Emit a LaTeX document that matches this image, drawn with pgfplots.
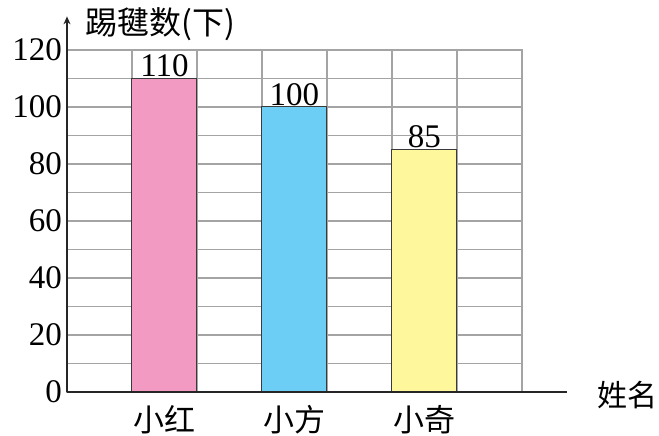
\documentclass[border=0pt]{standalone}
\usepackage{fontspec}
\setmainfont{Liberation Serif}
\newfontfamily\cjk{Noto Sans CJK SC}
\usepackage{pgfplots}
\pgfplotsset{compat=1.18}
\usetikzlibrary{arrows.meta}
\definecolor{gridgray}{HTML}{A4A4A4}
\definecolor{barpink}{HTML}{F39AC2}
\definecolor{barblue}{HTML}{6CCEF4}
\definecolor{baryellow}{HTML}{FFF79B}
\definecolor{baredge}{HTML}{3A3A3A}

\begin{document}
\begin{tikzpicture}
% fixed page frame (same proportions as the reference)
\path (-67pt,-44pt) rectangle (592pt,392pt);
\begin{axis}[
    at={(0,0)}, anchor=origin,
    scale only axis, width=455pt, height=342pt,
    xmin=0, xmax=7, ymin=0, ymax=120,
    clip=false,
    axis line style={gridgray, line width=1.2pt},
    xtick={1.5,3.5,5.5},
    xticklabels={小红,小方,小奇},
    minor xtick={1,2,...,7},
    ytick={0,20,...,120},
    minor ytick={10,30,...,110},
    ymajorgrids=true, yminorgrids=true, xminorgrids=true,
    major grid style={gridgray, line width=1.2pt},
    minor grid style={gridgray, line width=1.2pt},
    major tick length=0pt, minor tick length=0pt,
    tick style={draw=none},
    /pgf/number format/assume math mode=true,
    yticklabel style={font=\fontsize{33}{36}\selectfont, inner sep=0pt, xshift=-5pt},
    xticklabel style={font=\cjk\fontsize{31}{34}\selectfont, inner sep=0pt, yshift=-13pt},
    every node near coord/.append style={font=\fontsize{33}{36}\selectfont, inner sep=1pt, anchor=south},
    bar width=1,
]
\addplot[ybar, bar shift=0pt, fill=barpink, draw=baredge, line width=1pt, nodes near coords]
    coordinates {(1.5,110)};
\addplot[ybar, bar shift=0pt, fill=barblue, draw=baredge, line width=1pt, nodes near coords]
    coordinates {(3.5,100)};
\addplot[ybar, bar shift=0pt, fill=baryellow, draw=baredge, line width=1pt, nodes near coords]
    coordinates {(5.5,85)};

% black axes over the grey frame
\draw[line width=1.3pt, black!85] (axis cs:0,0) -- (axis cs:7.69,0);
\draw[line width=1.2pt, black!85, -{Stealth[length=8pt,width=7pt]}] (axis cs:0,0) -- (axis cs:0,131.8);
\end{axis}
\node[anchor=west, inner sep=0pt, font=\cjk\fontsize{32}{34}\selectfont] at (18pt,368pt) {踢毽数(下)};
\node[anchor=west, inner sep=0pt, font=\cjk\fontsize{30}{32}\selectfont] at (530pt,-3pt) {姓名};
\end{tikzpicture}
\end{document}
